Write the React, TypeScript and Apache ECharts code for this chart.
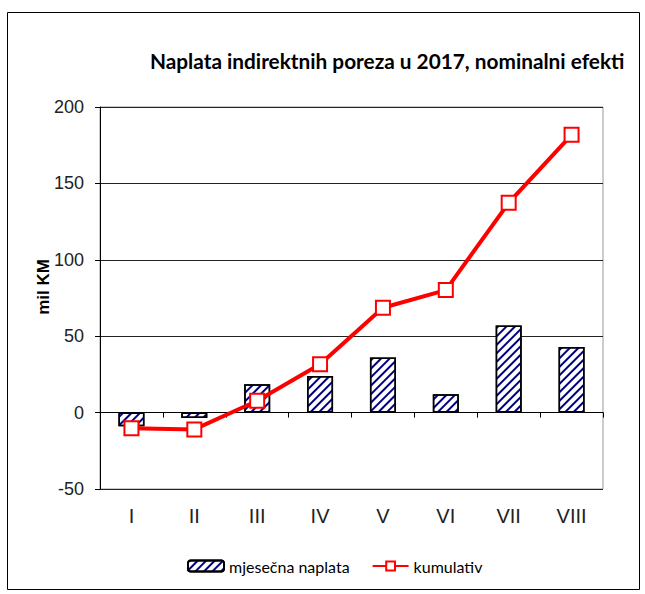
import React, { useEffect, useRef } from "react";
import * as echarts from "echarts";

const categories = ["I", "II", "III", "IV", "V", "VI", "VII", "VIII"];
const monthly = [-9, -3.5, 18.5, 24, 36, 12, 57, 43];
const cumulative = [-10.3, -11, 7.7, 31.6, 68.6, 80.2, 137.3, 181.8];
const yTicks = { min: -50, max: 200, interval: 50 };
const titleText = "Naplata indirektnih poreza u 2017, nominalni efekti";
const yName = "mil KM";
const seriesNames = ["mjesečna naplata", "kumulativ"];

export default function App() {
  const ref = useRef<HTMLDivElement>(null);
  useEffect(() => {
    if (!ref.current) return;
    const chart = echarts.init(ref.current, undefined, { renderer: "svg" });
    chart.setOption({
      animation: false,
      backgroundColor: "#fff",
      graphic: [
        {
          type: "rect",
          shape: { x: 7.5, y: 12.5, width: 632, height: 577 },
          style: { fill: "none", stroke: "#000", lineWidth: 1 },
          silent: true,
        },
        {
          type: "text",
          x: 43,
          y: 287,
          rotation: Math.PI / 2,
          style: {
            text: yName,
            fontFamily: "Liberation Sans",
            fontWeight: "bold",
            fontSize: 17,
            fill: "#000",
            align: "center",
            verticalAlign: "middle",
          },
          silent: true,
        },
      ],
      title: {
        text: titleText,
        left: 145,
        top: 45,
        textStyle: {
          fontFamily: "Lato, 'Liberation Sans', sans-serif",
          fontWeight: "bold",
          fontSize: 20.8,
          color: "#000",
        },
      },
      legend: {
        left: 182,
        top: 553,
        itemGap: 22,
        itemWidth: 36,
        itemHeight: 11,
        textStyle: { fontFamily: "Lato, 'Liberation Sans', sans-serif", fontSize: 16, color: "#000" },
        data: seriesNames,
      },
      grid: {
        left: 100,
        right: 42,
        top: 107,
        bottom: 105,
        show: true,
        borderColor: "#999",
        borderWidth: 1,
      },
      xAxis: [
        {
          type: "category",
          data: categories,
          position: "bottom",
          axisLine: { show: false, onZero: false },
          axisTick: { show: false },
          axisLabel: { fontFamily: "Liberation Sans", fontSize: 20, color: "#222", margin: 17 },
        },
        {
          type: "category",
          data: categories,
          position: "bottom",
          axisLine: { show: true, onZero: true, lineStyle: { color: "#000", width: 1 } },
          axisTick: { show: true, length: 5, lineStyle: { color: "#000" } },
          axisLabel: { show: false },
        },
      ],
      yAxis: {
        type: "value",
        min: yTicks.min,
        max: yTicks.max,
        interval: yTicks.interval,
        axisLine: { show: true, lineStyle: { color: "#000" } },
        axisTick: { show: true, length: 5, lineStyle: { color: "#000" } },
        axisLabel: { fontFamily: "Liberation Sans", fontSize: 18, color: "#222", margin: 16 },
        splitLine: { show: true, lineStyle: { color: "#222", width: 1 } },
      },
      series: [
        {
          name: seriesNames[0],
          type: "bar",
          data: monthly,
          barWidth: 26,
          itemStyle: {
            color: "#fff",
            borderColor: "#000",
            borderWidth: 1.5,
            decal: {
              symbol: "rect",
              dashArrayX: [1, 0],
              dashArrayY: [2, 4],
              rotation: -Math.PI / 4,
              color: "#000080",
              backgroundColor: "#fff",
            },
          },
        },
        {
          name: seriesNames[1],
          type: "line",
          data: cumulative,
          symbol: "rect",
          symbolSize: 14,
          lineStyle: { color: "#ff0000", width: 4 },
          itemStyle: { color: "#fff", borderColor: "#ff0000", borderWidth: 2 },
          z: 5,
        },
      ],
    });
    return () => chart.dispose();
  }, []);
  return (
    <div
      ref={ref}
      style={{ position: "absolute", left: 0, top: 0, width: 645, height: 594 }}
    />
  );
}
